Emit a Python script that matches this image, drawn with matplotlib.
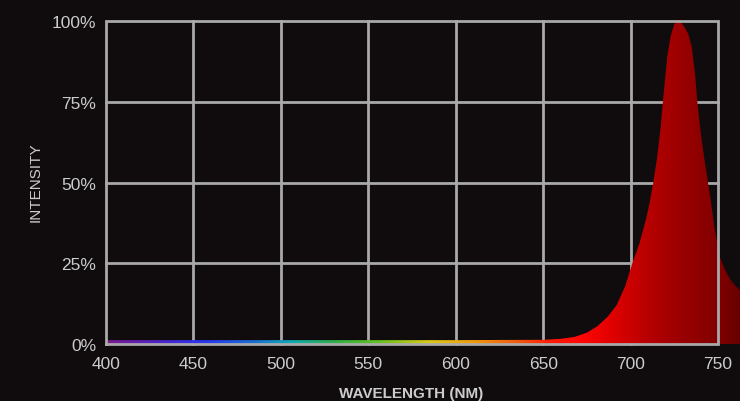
import numpy as np
import matplotlib
matplotlib.use("Agg")
import matplotlib.pyplot as plt
from matplotlib.colors import LinearSegmentedColormap
from matplotlib.patches import Polygon


######### Data #########
wavelength = [400, 450, 500, 550, 600, 650, 660, 668, 675, 681, 687, 692, 697,
              701, 705, 709, 711, 713, 715, 717, 719, 721, 723, 725, 727, 729,
              731, 733, 735, 737, 738, 740, 742, 744, 746, 748, 751, 754, 757,
              760, 763]
intensity = [1.2, 1.2, 1.2, 1.2, 1.2, 1.3, 1.6, 2.2, 3.5, 5.5, 8.5, 12, 18,
             25, 31, 39, 44, 50, 57, 66, 78, 89, 95.5, 99, 100, 99.5,
             98, 96, 92, 83, 76, 66, 58, 51, 44, 36, 27, 23, 20,
             18, 16.5]
xticks = [400, 450, 500, 550, 600, 650, 700, 750]
yticks = [0, 25, 50, 75, 100]
ytick_labels = ["0%", "25%", "50%", "75%", "100%"]
###############################################

bg = "#100c0d"
frame_col = "#a9a9a9"
text_col = "#cccccc"
fonts = ["Liberation Sans", "DejaVu Sans"]

# colour along the wavelength axis (spectrum, then the red peak darkening)
stops = [(400, "#7a1a90"), (430, "#5022c8"), (455, "#2a34f0"), (485, "#1a70d0"),
         (505, "#10a8b8"), (530, "#30b048"), (555, "#60c020"), (585, "#d8c818"),
         (610, "#f09a10"), (635, "#f05a10"), (655, "#ff1a08"), (672, "#ff0606"),
         (690, "#e00000"), (710, "#b80000"), (730, "#9a0000"), (750, "#820000"),
         (763, "#680000")]
lo, hi = stops[0][0], stops[-1][0]
cmap = LinearSegmentedColormap.from_list(
    "spec", [((w - lo) / (hi - lo), c) for w, c in stops])

fig = plt.figure(figsize=(7.4, 4.02), dpi=100, facecolor=bg)
ax = fig.add_axes([106 / 740, 57 / 402, 634 / 740, 323 / 402])
ax.set_facecolor(bg)
xmax = 400 + 634 / (612 / 350)
ax.set_xlim(400, xmax)
ax.set_ylim(0, 100)
for s in ax.spines.values():
    s.set_visible(False)

# grid
for x in xticks[1:-1]:
    ax.plot([x, x], [0, 100], color=frame_col, lw=2, zorder=1, clip_on=False)
for y in yticks[1:-1]:
    ax.plot([400, 750], [y, y], color=frame_col, lw=2, zorder=1, clip_on=False)

# filled curve with gradient
verts = [(wavelength[0], 0)] + list(zip(wavelength, intensity)) + [(wavelength[-1], 0)]
poly = Polygon(verts, closed=True, facecolor="none", edgecolor="none")
ax.add_patch(poly)
grad = np.linspace(0, 1, 512).reshape(1, -1)
im = ax.imshow(grad, cmap=cmap, aspect="auto", extent=[lo, hi, 0, 100],
               zorder=2, interpolation="bilinear")
im.set_clip_path(poly)

# frame box 400-750, 0-100 on top
ax.plot([400, 750, 750, 400, 400], [0, 0, 100, 100, 0], color=frame_col, lw=2,
        zorder=3, clip_on=False, solid_joinstyle="miter")

ax.set_xticks(xticks)
ax.set_xticklabels([str(t) for t in xticks], family=fonts, fontsize=12.5, color=text_col)
ax.set_yticks(yticks)
ax.set_yticklabels(ytick_labels, family=fonts, fontsize=12.5, color=text_col)
ax.tick_params(axis="x", length=0, pad=9)
ax.tick_params(axis="y", length=0, pad=7)

fig.text(411 / 740, 1 - 394 / 402, "WAVELENGTH (NM)", family=fonts, fontsize=11,
         fontweight="bold", color=text_col, ha="center", va="center")
fig.text(36 / 740, 1 - 182 / 402, "INTENSITY", family=fonts, fontsize=11,
         color=text_col, ha="center", va="center", rotation=90)

fig.savefig("out.png", dpi=100, facecolor=bg)
